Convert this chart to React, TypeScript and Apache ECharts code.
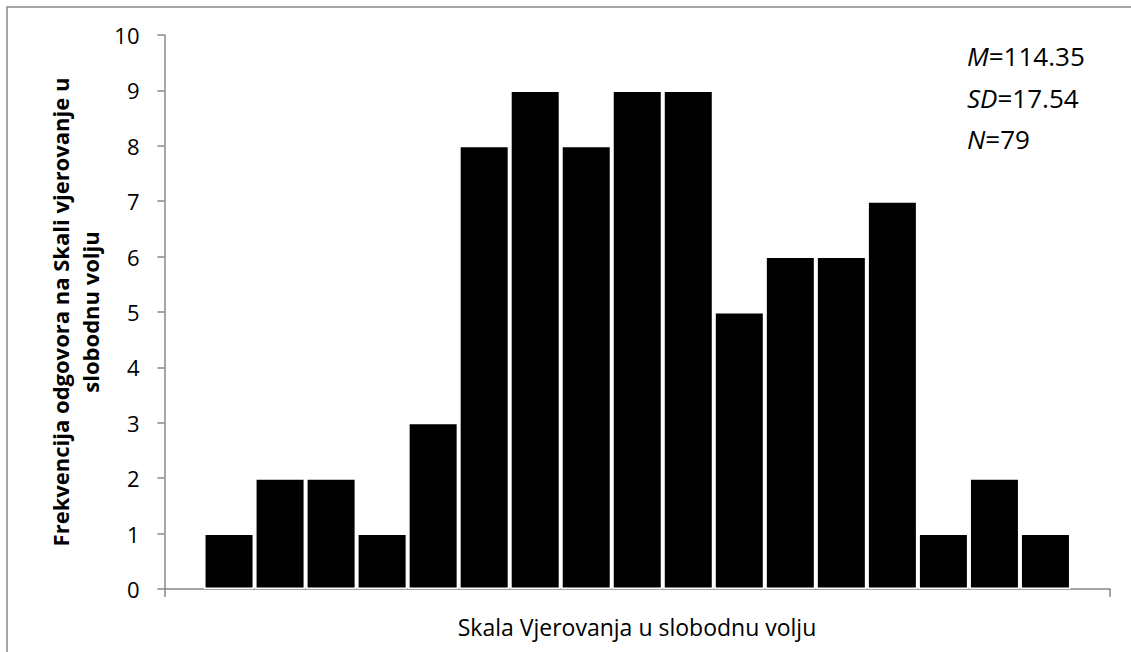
import React, { useEffect, useRef } from "react";
import * as echarts from "echarts";

// Histogram frequencies (17 bins, left to right)
const frequencies: number[] = [1, 2, 2, 1, 3, 8, 9, 8, 9, 9, 5, 6, 6, 7, 1, 2, 1];
const yTicks: number[] = [0, 1, 2, 3, 4, 5, 6, 7, 8, 9, 10];
const statsLines: { label: string; value: string }[] = [
  { label: "M", value: "=114.35" },
  { label: "SD", value: "=17.54" },
  { label: "N", value: "=79" },
];
const xAxisTitle = "Skala Vjerovanja u slobodnu volju";
const yAxisTitle = "Frekvencija odgovora na Skali vjerovanje u\nslobodnu volju";

const FONT = "'Open Sans', 'Noto Sans', sans-serif";
const AXIS_COLOR = "#878787";

export default function App() {
  const ref = useRef<HTMLDivElement>(null);

  useEffect(() => {
    if (!ref.current) return;
    const chart = echarts.init(ref.current, null, { renderer: "svg" });

    const leftPad = 0.765; // empty space (in bin units) before first bin
    const xMax = frequencies.length + 2 * leftPad;
    const data = frequencies.map((v, i) => [i + leftPad + 0.5, v]);

    chart.setOption({
      animation: false,
      backgroundColor: "#ffffff",
      textStyle: { fontFamily: FONT },
      grid: { left: 164.5, right: 21, top: 35, bottom: 63 },
      xAxis: {
        type: "value",
        min: 0,
        max: xMax,
        interval: xMax,
        axisLine: { show: true, lineStyle: { color: AXIS_COLOR, width: 1.5 } },
        axisTick: { show: true, length: 8, customValues: [0, xMax], lineStyle: { color: AXIS_COLOR, width: 1.5 } },
        axisLabel: { show: false },
        splitLine: { show: false },
      },
      yAxis: {
        type: "value",
        min: yTicks[0],
        max: yTicks[yTicks.length - 1],
        interval: 1,
        axisLine: { show: true, lineStyle: { color: AXIS_COLOR, width: 1.5 } },
        axisTick: { show: true, length: 7, lineStyle: { color: AXIS_COLOR, width: 1.5 } },
        axisLabel: { margin: 25, fontSize: 22, color: "#000000", fontFamily: FONT },
        splitLine: { show: false },
      },
      series: [
        {
          type: "bar",
          data,
          barWidth: 50,
          itemStyle: { color: "#000000", borderColor: "#ffffff", borderWidth: 1.5 },
        },
      ],
      graphic: [
        {
          type: "rect",
          shape: { x: 7, y: 7, width: 1300, height: 900 },
          style: { fill: "none", stroke: AXIS_COLOR, lineWidth: 1.5 },
          silent: true,
        },
        {
          type: "text",
          x: 75,
          y: 312,
          rotation: Math.PI / 2,
          style: {
            text: yAxisTitle,
            align: "center",
            verticalAlign: "middle",
            font: `bold 22px ${FONT}`,
            lineHeight: 30,
            fill: "#000000",
          },
        },
        {
          type: "text",
          x: 637,
          y: 627,
          style: {
            text: xAxisTitle,
            align: "center",
            verticalAlign: "middle",
            font: `23px ${FONT}`,
            fill: "#000000",
          },
        },
        ...statsLines.map((s, i) => ({
          type: "text",
          x: 967,
          y: 56 + i * 41.5,
          style: {
            text: `{i|${s.label}}{n|${s.value}}`,
            align: "left",
            verticalAlign: "middle",
            rich: {
              i: { fontStyle: "italic", fontSize: 26, fontFamily: FONT, fill: "#000000" },
              n: { fontSize: 26, fontFamily: FONT, fill: "#000000" },
            },
          },
        })),
      ],
    });

    return () => chart.dispose();
  }, []);

  return (
    <div
      ref={ref}
      style={{ position: "fixed", left: 0, top: 0, width: 1131, height: 652 }}
    />
  );
}
